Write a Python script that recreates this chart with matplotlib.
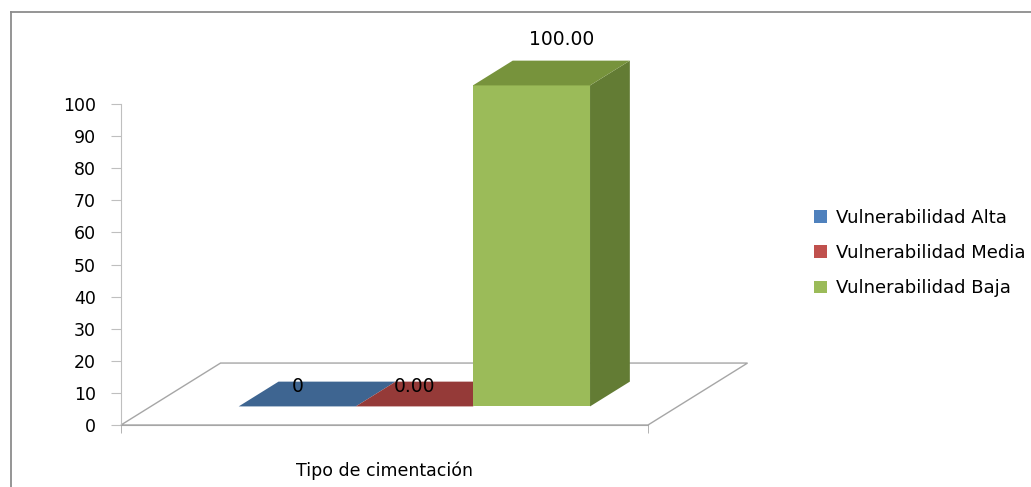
import matplotlib

matplotlib.use('Agg')
import matplotlib.pyplot as plt
from matplotlib.patches import Polygon, Patch
from matplotlib.lines import Line2D

# chart data
series = ['Vulnerabilidad Alta', 'Vulnerabilidad Media', 'Vulnerabilidad Baja']
values = [0, 0.0, 100.0]
value_labels = ['0', '0.00', '100.00']
category = 'Tipo de cimentación'
y_ticks = list(range(0, 101, 10))

# face colours (front / top / right side)
front_colors = ['#4F81BD', '#C0504D', '#9BBB59']
top_colors = ['#3E6591', '#953A38', '#77933C']
side_colors = ['#375A80', '#7F302E', '#637C34']
grid_color = '#A6A6A6'

W, H = 1031, 487
fig = plt.figure(figsize=(W / 100, H / 100), dpi=100)
ax = fig.add_axes([121 / W, 62 / H, 527 / W, 321 / H])

n = len(values)
gap = 0.75                       # half of a 150% gap width
x_max = n + 2 * gap
ax.set_xlim(0, x_max)
ax.set_ylim(0, 100)

# floor depth in data units, bars occupy the middle of the depth
DX, DY = 0.85, 19.3
f0, f1 = 0.3, 0.7
bdx, bdy = (f1 - f0) * DX, (f1 - f0) * DY

# floor outline
floor = Polygon([(0, 0), (x_max, 0), (x_max + DX, DY), (DX, DY)], closed=True,
                fill=False, edgecolor=grid_color, lw=1.0, clip_on=False, zorder=1)
ax.add_patch(floor)

for i, v in enumerate(values):
    x0 = gap + i + f0 * DX
    y0 = f0 * DY
    top = [(x0, y0 + v), (x0 + 1, y0 + v), (x0 + 1 + bdx, y0 + v + bdy), (x0 + bdx, y0 + v + bdy)]
    side = [(x0 + 1, y0), (x0 + 1 + bdx, y0 + bdy), (x0 + 1 + bdx, y0 + v + bdy), (x0 + 1, y0 + v)]
    front = [(x0, y0), (x0 + 1, y0), (x0 + 1, y0 + v), (x0, y0 + v)]
    z = 2 + i
    if v > 0:
        ax.add_patch(Polygon(side, closed=True, facecolor=side_colors[i], edgecolor='none',
                             clip_on=False, zorder=z))
        ax.add_patch(Polygon(front, closed=True, facecolor=front_colors[i], edgecolor='none',
                             clip_on=False, zorder=z))
    ax.add_patch(Polygon(top, closed=True, facecolor=top_colors[i], edgecolor='none',
                         clip_on=False, zorder=z))

    # value labels
    if v > 0:
        ax.annotate(value_labels[i], (x0 + 0.5 + 0.75 * bdx, y0 + v + bdy),
                    xytext=(0, 15), textcoords='offset points',
                    ha='center', va='center', fontsize=13.5, zorder=10,
                    annotation_clip=False)
    else:
        ax.annotate(value_labels[i], (x0 + 0.5, y0 + v + 0.8 * bdy),
                    ha='center', va='center', fontsize=13.5, zorder=10,
                    annotation_clip=False)

# axes styling
for s in ['top', 'right']:
    ax.spines[s].set_visible(False)
ax.spines['left'].set_color('#BFBFBF')
ax.spines['bottom'].set_color(grid_color)
ax.set_yticks(y_ticks)
ax.tick_params(axis='y', length=7, color='#BFBFBF', labelsize=12.5, pad=11)
ax.set_xticks([0, x_max], minor=True)
ax.tick_params(axis='x', which='minor', length=6, color=grid_color)
ax.set_xticks([x_max / 2], [category])
ax.tick_params(axis='x', which='major', length=0, labelsize=12.5, pad=26)
ax.patch.set_visible(False)

# legend
handles = [Patch(facecolor=c, edgecolor='none') for c in front_colors]
fig.legend(handles, series, loc='center left', bbox_to_anchor=(798 / W, 1 - 253 / H),
           frameon=False, fontsize=13, handlelength=0.7, handleheight=0.7,
           handletextpad=0.5, labelspacing=0.95)

# chart area border
fig.add_artist(Line2D([11 / W, 11 / W], [0, 1 - 12 / H], color='#8C8C8C', lw=1.3))
fig.add_artist(Line2D([11 / W, 1], [1 - 12 / H, 1 - 12 / H], color='#8C8C8C', lw=1.3))

fig.savefig('out.png', dpi=100)
